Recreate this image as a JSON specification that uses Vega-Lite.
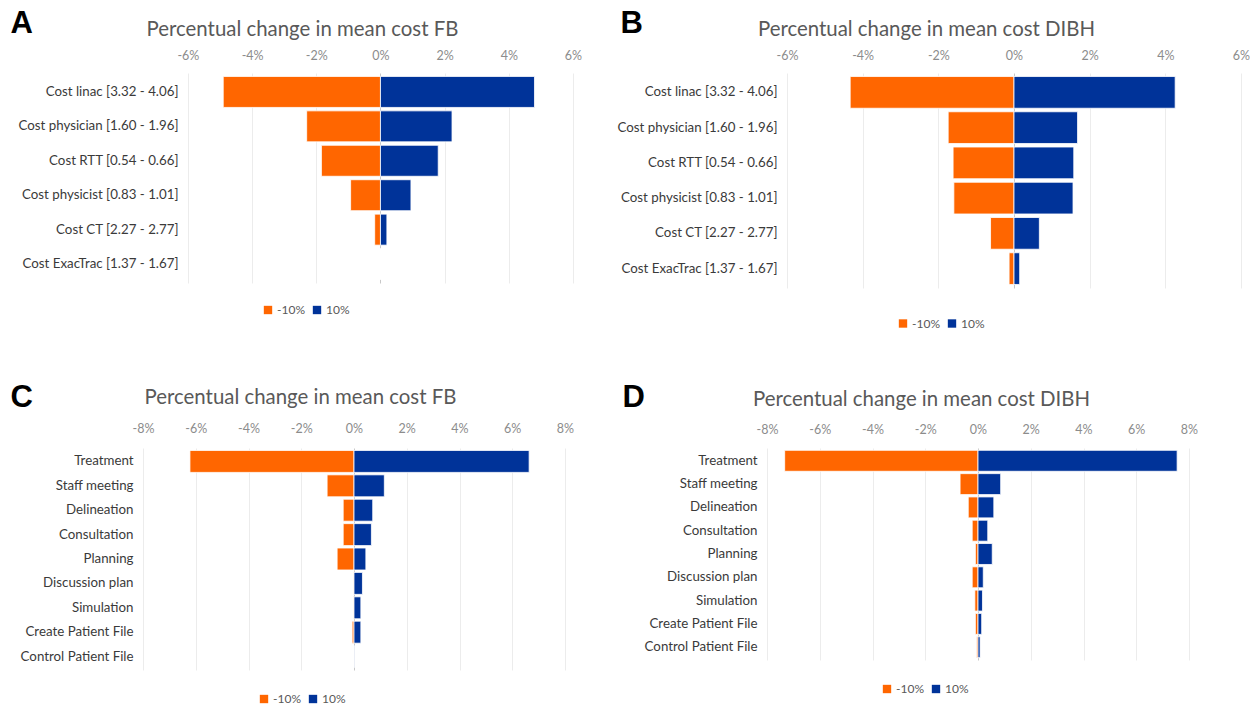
{
  "$schema": "https://vega.github.io/schema/vega-lite/v6.json",
  "background": "white",
  "padding": {"left": 10, "top": 7, "right": 0, "bottom": 0},
  "autosize": {"type": "pad"},
  "datasets": {
    "A": [
      {"item": "Cost linac [3.32 - 4.06]", "scenario": "-10%", "change": -4.9},
      {"item": "Cost linac [3.32 - 4.06]", "scenario": "10%", "change": 4.8},
      {"item": "Cost physician [1.60 - 1.96]", "scenario": "-10%", "change": -2.3},
      {"item": "Cost physician [1.60 - 1.96]", "scenario": "10%", "change": 2.23},
      {"item": "Cost RTT [0.54 - 0.66]", "scenario": "-10%", "change": -1.84},
      {"item": "Cost RTT [0.54 - 0.66]", "scenario": "10%", "change": 1.8},
      {"item": "Cost physicist [0.83 - 1.01]", "scenario": "-10%", "change": -0.93},
      {"item": "Cost physicist [0.83 - 1.01]", "scenario": "10%", "change": 0.95},
      {"item": "Cost CT [2.27 - 2.77]", "scenario": "-10%", "change": -0.18},
      {"item": "Cost CT [2.27 - 2.77]", "scenario": "10%", "change": 0.2},
      {"item": "Cost ExacTrac [1.37 - 1.67]", "scenario": "-10%", "change": 0},
      {"item": "Cost ExacTrac [1.37 - 1.67]", "scenario": "10%", "change": 0}
    ],
    "B": [
      {"item": "Cost linac [3.32 - 4.06]", "scenario": "-10%", "change": -4.33},
      {"item": "Cost linac [3.32 - 4.06]", "scenario": "10%", "change": 4.26},
      {"item": "Cost physician [1.60 - 1.96]", "scenario": "-10%", "change": -1.74},
      {"item": "Cost physician [1.60 - 1.96]", "scenario": "10%", "change": 1.68},
      {"item": "Cost RTT [0.54 - 0.66]", "scenario": "-10%", "change": -1.61},
      {"item": "Cost RTT [0.54 - 0.66]", "scenario": "10%", "change": 1.58},
      {"item": "Cost physicist [0.83 - 1.01]", "scenario": "-10%", "change": -1.59},
      {"item": "Cost physicist [0.83 - 1.01]", "scenario": "10%", "change": 1.56},
      {"item": "Cost CT [2.27 - 2.77]", "scenario": "-10%", "change": -0.62},
      {"item": "Cost CT [2.27 - 2.77]", "scenario": "10%", "change": 0.67},
      {"item": "Cost ExacTrac [1.37 - 1.67]", "scenario": "-10%", "change": -0.13},
      {"item": "Cost ExacTrac [1.37 - 1.67]", "scenario": "10%", "change": 0.15}
    ],
    "C": [
      {"item": "Treatment", "scenario": "-10%", "change": -6.22},
      {"item": "Treatment", "scenario": "10%", "change": 6.64},
      {"item": "Staff meeting", "scenario": "-10%", "change": -1.02},
      {"item": "Staff meeting", "scenario": "10%", "change": 1.15},
      {"item": "Delineation", "scenario": "-10%", "change": -0.41},
      {"item": "Delineation", "scenario": "10%", "change": 0.71},
      {"item": "Consultation", "scenario": "-10%", "change": -0.41},
      {"item": "Consultation", "scenario": "10%", "change": 0.66},
      {"item": "Planning", "scenario": "-10%", "change": -0.64},
      {"item": "Planning", "scenario": "10%", "change": 0.45},
      {"item": "Discussion plan", "scenario": "-10%", "change": -0.02},
      {"item": "Discussion plan", "scenario": "10%", "change": 0.32},
      {"item": "Simulation", "scenario": "-10%", "change": -0.02},
      {"item": "Simulation", "scenario": "10%", "change": 0.26},
      {"item": "Create Patient File", "scenario": "-10%", "change": -0.07},
      {"item": "Create Patient File", "scenario": "10%", "change": 0.26},
      {"item": "Control Patient File", "scenario": "-10%", "change": 0},
      {"item": "Control Patient File", "scenario": "10%", "change": 0.01}
    ],
    "D": [
      {"item": "Treatment", "scenario": "-10%", "change": -7.33},
      {"item": "Treatment", "scenario": "10%", "change": 7.55},
      {"item": "Staff meeting", "scenario": "-10%", "change": -0.68},
      {"item": "Staff meeting", "scenario": "10%", "change": 0.86},
      {"item": "Delineation", "scenario": "-10%", "change": -0.37},
      {"item": "Delineation", "scenario": "10%", "change": 0.6},
      {"item": "Consultation", "scenario": "-10%", "change": -0.22},
      {"item": "Consultation", "scenario": "10%", "change": 0.37},
      {"item": "Planning", "scenario": "-10%", "change": -0.1},
      {"item": "Planning", "scenario": "10%", "change": 0.54},
      {"item": "Discussion plan", "scenario": "-10%", "change": -0.22},
      {"item": "Discussion plan", "scenario": "10%", "change": 0.2},
      {"item": "Simulation", "scenario": "-10%", "change": -0.12},
      {"item": "Simulation", "scenario": "10%", "change": 0.17},
      {"item": "Create Patient File", "scenario": "-10%", "change": -0.1},
      {"item": "Create Patient File", "scenario": "10%", "change": 0.14},
      {"item": "Control Patient File", "scenario": "-10%", "change": -0.05},
      {"item": "Control Patient File", "scenario": "10%", "change": 0.08}
    ]
  },
  "spacing": 51,
  "resolve": {"scale": {"x": "independent", "y": "independent", "color": "independent"}, "legend": {"color": "independent"}, "axis": {"x": "independent", "y": "independent"}},
  "vconcat": [
    {
      "spacing": 34,
      "resolve": {"scale": {"x": "independent", "y": "independent", "color": "independent"}, "legend": {"color": "independent"}, "axis": {"x": "independent", "y": "independent"}},
      "hconcat": [
        {
          "width": 430, "height": 210,
          "data": {"name": "A"},
          "mark": {"type": "bar", "stroke": "white", "strokeWidth": 0.8},
          "encoding": {
            "y": {"field": "item", "type": "nominal", "sort": ["Cost linac [3.32 - 4.06]", "Cost physician [1.60 - 1.96]", "Cost RTT [0.54 - 0.66]", "Cost physicist [0.83 - 1.01]", "Cost CT [2.27 - 2.77]", "Cost ExacTrac [1.37 - 1.67]"], "scale": {"paddingInner": 0.1, "paddingOuter": 0.1},
              "axis": {"title": "A", "titleX": -133, "titleY": -41, "labelPadding": -35}},
            "x": {"field": "change", "type": "quantitative", "stack": null, "scale": {"domain": [-7.4, 6], "nice": false, "zero": false},
              "axis": {"values": [-6, -4, -2, 0, 2, 4, 6], "title": "Percentual change in mean cost FB", "titleX": 159, "titleY": -44}},
            "color": {"field": "scenario", "type": "nominal", "scale": {"domain": ["-10%", "10%"], "range": ["#FF6600", "#003399"]},
              "legend": {"legendX": 119, "legendY": 231}}
          }
        },
        {
          "width": 454, "height": 215,
          "data": {"name": "B"},
          "mark": {"type": "bar", "stroke": "white", "strokeWidth": 0.8},
          "encoding": {
            "y": {"field": "item", "type": "nominal", "sort": ["Cost linac [3.32 - 4.06]", "Cost physician [1.60 - 1.96]", "Cost RTT [0.54 - 0.66]", "Cost physicist [0.83 - 1.01]", "Cost CT [2.27 - 2.77]", "Cost ExacTrac [1.37 - 1.67]"], "scale": {"paddingInner": 0.1, "paddingOuter": 0.1},
              "axis": {"title": "B", "titleX": -167, "titleY": -41}},
            "x": {"field": "change", "type": "quantitative", "stack": null, "scale": {"domain": [-6, 6], "nice": false},
              "axis": {"values": [-6, -4, -2, 0, 2, 4, 6], "title": "Percentual change in mean cost DIBH", "titleX": 139, "titleY": -44}},
            "color": {"field": "scenario", "type": "nominal", "scale": {"domain": ["-10%", "10%"], "range": ["#FF6600", "#003399"]},
              "legend": {"legendX": 110, "legendY": 244.5}}
          }
        }
      ]
    },
    {
      "spacing": 48,
      "resolve": {"scale": {"x": "independent", "y": "independent", "color": "independent"}, "legend": {"color": "independent"}, "axis": {"x": "independent", "y": "independent"}},
      "hconcat": [
        {
          "width": 422, "height": 222,
          "data": {"name": "C"},
          "mark": {"type": "bar", "stroke": "white", "strokeWidth": 0.8},
          "encoding": {
            "y": {"field": "item", "type": "nominal", "sort": ["Treatment", "Staff meeting", "Delineation", "Consultation", "Planning", "Discussion plan", "Simulation", "Create Patient File", "Control Patient File"], "scale": {"paddingInner": 0.1, "paddingOuter": 0.1},
              "axis": {"title": "C", "titleX": -133, "titleY": -42}},
            "x": {"field": "change", "type": "quantitative", "stack": null, "scale": {"domain": [-8, 8], "nice": false},
              "axis": {"values": [-8, -6, -4, -2, 0, 2, 4, 6, 8], "title": "Percentual change in mean cost FB", "titleX": 157, "titleY": -51, "labelPadding": 13}},
            "color": {"field": "scenario", "type": "nominal", "scale": {"domain": ["-10%", "10%"], "range": ["#FF6600", "#003399"]},
              "legend": {"legendX": 115, "legendY": 245}}
          }
        },
        {
          "width": 422, "height": 212,
          "data": {"name": "D"},
          "mark": {"type": "bar", "stroke": "white", "strokeWidth": 0.8},
          "encoding": {
            "y": {"field": "item", "type": "nominal", "sort": ["Treatment", "Staff meeting", "Delineation", "Consultation", "Planning", "Discussion plan", "Simulation", "Create Patient File", "Control Patient File"], "scale": {"paddingInner": 0.1, "paddingOuter": 0.1},
              "axis": {"title": "D", "titleX": -145, "titleY": -42}},
            "x": {"field": "change", "type": "quantitative", "stack": null, "scale": {"domain": [-8, 8], "nice": false},
              "axis": {"values": [-8, -6, -4, -2, 0, 2, 4, 6, 8], "title": "Percentual change in mean cost DIBH", "titleX": 154, "titleY": -49, "labelPadding": 12}},
            "color": {"field": "scenario", "type": "nominal", "scale": {"domain": ["-10%", "10%"], "range": ["#FF6600", "#003399"]},
              "legend": {"legendX": 114, "legendY": 235}}
          }
        }
      ]
    }
  ],
  "config": {
    "view": {"stroke": null},
    "font": "Lato",
    "axisX": {"orient": "top", "labelExpr": "datum.value + '%'", "labelFlush": false, "labelOverlap": false, "labelFont": "Lato", "labelFontSize": 12.5, "labelColor": "#8c8c8c", "labelPadding": 11, "ticks": false, "tickSize": 0, "domain": false, "grid": true, "gridColor": {"condition": {"test": "datum.value === 0", "value": "#c8c8c8"}, "value": "#ececec"}, "gridWidth": 1, "titleFont": "Lato", "titleFontSize": 20.4, "titleFontWeight": "normal", "titleColor": "#595959", "titleAngle": 0, "titleAlign": "center", "titleBaseline": "middle"},
    "axisY": {"domain": false, "ticks": false, "tickSize": 0, "grid": false, "labelFont": "Lato", "labelFontSize": 13.3, "labelColor": "#3a3a3a", "labelPadding": 10, "labelLimit": 300, "titleAngle": 0, "titleAlign": "left", "titleBaseline": "alphabetic", "titleFont": "Liberation Sans", "titleFontSize": 31, "titleFontWeight": "bold", "titleColor": "#000000"},
    "legend": {"orient": "none", "direction": "horizontal", "title": null, "symbolType": "square", "symbolSize": 70, "symbolStrokeWidth": 0, "labelFont": "Lato", "labelFontSize": 12, "labelColor": "#595959", "columnPadding": 6, "labelOffset": 3}
  }
}
